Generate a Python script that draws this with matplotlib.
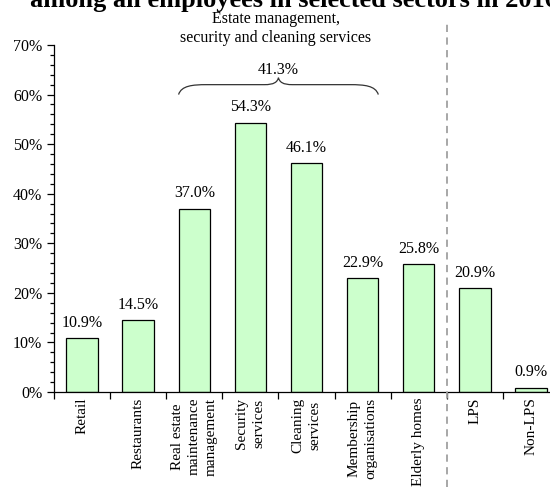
import matplotlib.pyplot as plt
import matplotlib.path as mpath
import matplotlib.patches as mpatches
from matplotlib.lines import Line2D
import numpy as np

plt.rcParams['font.family'] = ['Liberation Serif', 'DejaVu Serif']

categories = ['Retail', 'Restaurants', 'Real estate\nmaintenance\nmanagement',
              'Security\nservices', 'Cleaning\nservices', 'Membership\norganisations',
              'Elderly homes', 'LPS', 'Non-LPS']
values = [10.9, 14.5, 37.0, 54.3, 46.1, 22.9, 25.8, 20.9, 0.9]
group_value = 41.3
group_label = 'Estate management,\nsecurity and cleaning services'

fig = plt.figure(figsize=(5.5, 4.87), dpi=100)
ax = fig.add_axes([54/550, 1-392/487, (559-54)/550, (392-45)/487])

x = np.arange(len(categories))
ax.bar(x, values, width=0.56, color='#ccffcc', edgecolor='black', linewidth=0.9, zorder=2)
for xi, v in zip(x, values):
    ax.text(xi, v + 1.5, f'{v:.1f}%', ha='center', va='bottom', fontsize=11.5)

ax.set_xlim(-0.5, len(categories) - 0.5)
ax.set_ylim(0, 70)
ax.set_yticks(np.arange(0, 71, 10))
ax.set_yticklabels([f'{t}%' for t in range(0, 71, 10)], fontsize=11.5)
ax.set_yticks(np.arange(0, 71, 2), minor=True)
ax.tick_params(axis='y', which='major', length=5, width=0.9, direction='out')
ax.tick_params(axis='y', which='minor', length=3, width=0.9, direction='out')

ax.set_xticks(x)
ax.set_xticklabels(categories, rotation=90, fontsize=11, multialignment='center',
                   linespacing=1.4)
ax.set_xticks(np.arange(-0.5, len(categories)), minor=True)
ax.tick_params(axis='x', which='major', length=0, pad=4)
ax.tick_params(axis='x', which='minor', length=5, width=0.9, direction='out')

for s in ['top', 'right']:
    ax.spines[s].set_visible(False)
for s in ['left', 'bottom']:
    ax.spines[s].set_linewidth(0.9)

# curly brace over the estate management group
x1, x2 = 1.72, 5.28
xc = (x1 + x2) / 2
yt, ym, yp = 60.0, 62.0, 63.4
Path = mpath.Path
verts = [(x1, yt), (x1 + 0.05, ym - 0.2), (x1 + 0.25, ym), (x1 + 0.5, ym),
         (xc - 0.25, ym),
         (xc - 0.08, ym), (xc - 0.02, ym + 0.5), (xc, yp),
         (xc + 0.02, ym + 0.5), (xc + 0.08, ym), (xc + 0.25, ym),
         (x2 - 0.5, ym),
         (x2 - 0.25, ym), (x2 - 0.05, ym - 0.2), (x2, yt)]
codes = [Path.MOVETO, Path.CURVE4, Path.CURVE4, Path.CURVE4,
         Path.LINETO,
         Path.CURVE4, Path.CURVE4, Path.CURVE4,
         Path.CURVE4, Path.CURVE4, Path.CURVE4,
         Path.LINETO,
         Path.CURVE4, Path.CURVE4, Path.CURVE4]
brace = mpatches.PathPatch(Path(verts, codes), facecolor='none', edgecolor='#333333',
                           linewidth=0.9, clip_on=False)
ax.add_patch(brace)
ax.text(xc, 65.0, f'{group_value:.1f}%', ha='center', va='center', fontsize=11.5)
ax.text(3.45, 73.3, group_label, ha='center', va='center', fontsize=11.5,
        linespacing=1.3, clip_on=False)

# dashed separator between sectors and LPS / non-LPS
fig.add_artist(Line2D([447/550, 447/550], [0, 1-21/487], color='#a0a0a0',
                      linewidth=1.3, linestyle=(0, (4, 3))))

fig.text(30/550, 1-6.5/487, 'among all employees in selected sectors in 2016',
         ha='left', va='baseline', fontsize=19, fontweight='bold')

fig.savefig('out.png', dpi=100)
